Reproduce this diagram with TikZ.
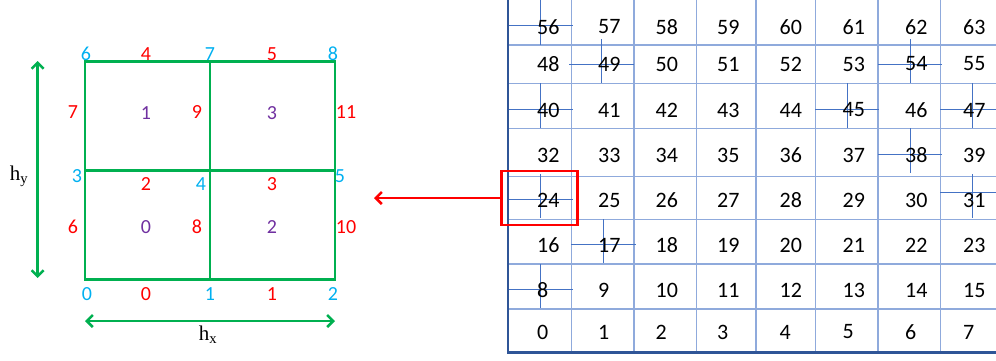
\documentclass[tikz,border=0pt]{standalone}
\usepackage{fontspec}
\setmainfont{Carlito}
\newfontfamily\hfont{Liberation Serif}
\usetikzlibrary{arrows.meta}
\definecolor{meshgreen}{HTML}{00B050}
\definecolor{vertblue}{HTML}{00B0F0}
\definecolor{edgered}{HTML}{FF0000}
\definecolor{cellpurple}{HTML}{7030A0}
\definecolor{gridlight}{HTML}{8FAADC}
\definecolor{gridsub}{HTML}{4472C4}
\definecolor{griddark}{HTML}{2F5597}

\begin{document}
\begin{tikzpicture}[x=1pt,y=-1pt,>={Straight Barb[length=6pt,width=12pt]},
  meshline/.style={meshgreen,line width=2.7pt},
  dimline/.style={<->,meshgreen,line width=2.5pt},
  vlabel/.style={text=vertblue,inner sep=0pt,font=\fontsize{20}{20}\selectfont},
  elabel/.style={text=edgered,inner sep=0pt,font=\fontsize{20}{20}\selectfont},
  clabel/.style={text=cellpurple,inner sep=0pt,font=\fontsize{20}{20}\selectfont},
  hlabel/.style={inner sep=0pt,font=\hfont\fontsize{21}{21}\selectfont},
  gridline/.style={gridlight,line width=1.3pt},
  subline/.style={gridsub,line width=1pt},
  cellnum/.style={anchor=west,inner sep=0pt,font=\fontsize{22}{22}\selectfont},
  pickbox/.style={draw=edgered,line width=2.5pt,minimum width=76pt,minimum height=54pt,inner sep=0pt}]
  \useasboundingbox (0,0) rectangle (996,360);

  % left: two by two mesh
  \coordinate (p0) at (85,279.3);
  \coordinate (p1) at (210,279.3);
  \coordinate (p3) at (85,170.7);
  \coordinate (p5) at (335,170.7);
  \coordinate (p7) at (210,61.7);
  \coordinate (p8) at (335,61.7);
  \draw[meshline] (p0) rectangle (p8);
  \draw[meshline] (p1) -- (p7) (p3) -- (p5);

  % vertex numbers
  \node[vlabel] (v6) at (86,54) {6};
  \node[vlabel] (v7) at (210,54) {7};
  \node[vlabel] (v8) at (333,54) {8};
  \node[vlabel] (v3) at (77,176) {3};
  \node[vlabel] (v4) at (201,184) {4};
  \node[vlabel] (v5) at (340,176) {5};
  \node[vlabel] (v0) at (87,294) {0};
  \node[vlabel] (v1) at (210,294) {1};
  \node[vlabel] (v2) at (333,294) {2};

  % edge numbers
  \node[elabel] (e4) at (146,54) {4};
  \node[elabel] (e5) at (272,54) {5};
  \node[elabel] (e7) at (73,112) {7};
  \node[elabel] (e9) at (197,112) {9};
  \node[elabel] (e11) at (346,112) {11};
  \node[elabel] (e2) at (146,184) {2};
  \node[elabel] (e3) at (272,184) {3};
  \node[elabel] (e6) at (73,227) {6};
  \node[elabel] (e8) at (197,227) {8};
  \node[elabel] (e10) at (346,227) {10};
  \node[elabel] (e0) at (146,294) {0};
  \node[elabel] (e1) at (272,294) {1};

  % cell numbers
  \node[clabel] (c1) at (146,113) {1};
  \node[clabel] (c3) at (272,113) {3};
  \node[clabel] (c0) at (146,227) {0};
  \node[clabel] (c2) at (272,227) {2};

  % sizes
  \coordinate (hyt) at (37.7,61);
  \coordinate (hyb) at (37.7,278);
  \coordinate (hxl) at (85,321);
  \coordinate (hxr) at (335,321);
  \draw[dimline] (hyt) -- (hyb);
  \draw[dimline] (hxl) -- (hxr);
  \node[hlabel] (hy) at (19,176) {h\textsubscript{y}};
  \node[hlabel] (hx) at (208,335) {h\textsubscript{x}};

  % right: numbered grid
  \foreach \x in {571.5,634,696.5,756,815.5,878,940.5}
    \draw[gridline] (\x,0) -- (\x,352.5);
  \foreach \y in {45,83.5,128.5,176.5,219.5,264,309}
    \draw[gridline] (508,\y) -- (996,\y);
  \foreach \xa/\xb/\xm/\ya/\yb/\ym in {508/572.7/540.7/0/45/25.5,
      569/634/601.7/39/83/64.3, 878/942/910/39/83/64.3,
      508/572.7/540.7/83/128/109.3, 815/879/847.7/83/128/109.3,
      940/996/972.7/83/128/109.3, 878/942/910/128/173/154.3,
      508/572.7/540.7/174/218/199.3, 940/996/972.7/174/218/192.7,
      571/635.7/603.3/219/263/244.3, 508/572.7/540.7/264/308/289.3}
    \draw[subline] (\xa,\ym) -- (\xb,\ym) (\xm,\ya) -- (\xm,\yb);
  \draw[griddark,line width=2.5pt] (508,0) -- (508,352.5) -- (996,352.5);

  \foreach \c/\xx in {0/537,1/598,2/655.5,3/717,4/779.5,5/842.5,6/905,7/963}
    \foreach \r/\yy in {0/332,1/290,2/245,3/200,4/155,5/110,6/64,7/27}
    {
      \pgfmathtruncatemacro\n{8*\r+\c}
      \node[cellnum] (n\n) at (\xx,\yy) {\n};
    }

  \node[pickbox] (pick) at (539.7,198) {};
  \coordinate (tip) at (374,198);
  \draw[->,edgered,line width=2.5pt] (pick.west) -- (tip);
\end{tikzpicture}
\end{document}
